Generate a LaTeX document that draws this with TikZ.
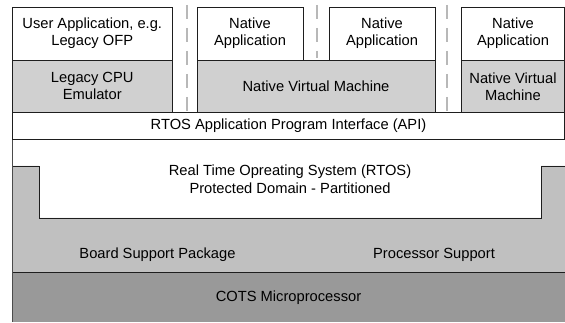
\documentclass[tikz,border=0pt]{standalone}
\usepackage{fontspec}
\setmainfont{Liberation Sans}
\definecolor{edge}{HTML}{1E1E1E}
\definecolor{topgray}{HTML}{D0D0D0}
\definecolor{midgray}{HTML}{C0C0C0}
\definecolor{darkgray}{HTML}{999999}
\definecolor{dashgray}{HTML}{B8B8B8}
\begin{document}
\begin{tikzpicture}[x=1pt,y=-1pt,
  font=\fontsize{14.7}{17}\selectfont,
  box/.style={draw=edge, line width=0.8pt, inner sep=0pt, outer sep=0pt, align=center},
  lbl/.style={inner sep=0pt, align=center},
  sep/.style={draw=dashgray, line width=1.8pt, dash pattern=on 14pt off 9pt},
  region/.style={draw=edge, line width=0.8pt}]
\useasboundingbox (0,0) rectangle (565,323);

% bottom layers
\fill[darkgray] (12.5,272) rectangle (565,322);
\node[lbl] (cots) at (288.5,298) {COTS Microprocessor};

\fill[white] (12.5,139) rectangle (564.5,218);
\path[region, fill=midgray] (12.5,166) -- (39,166) -- (39,218) -- (303,218) -- (303,272) -- (12.5,272) -- cycle;
\path[region, fill=midgray] (303,218) -- (541,218) -- (541,166) -- (565,166) -- (565,272) -- (303,272);
\draw[region] (12.5,272) -- (565,272);
\draw[draw=edge!80, line width=1.2pt] (12.5,139) -- (12.5,322);
\node[lbl] (bsp) at (157.5,255) {Board Support Package};
\node[lbl] (proc) at (434,255) {Processor Support};
\node[lbl, font=\fontsize{14.7}{18}\selectfont] (rtos) at (290,179) {Real Time Opreating System (RTOS)\\Protected Domain - Partitioned};

% API bar
\node[box, fill=white, minimum width=552pt, minimum height=26.5pt] (api) at (288.5,125.75) {RTOS Application Program Interface (API)};

% top row
\node[box, fill=white, minimum width=159.5pt, minimum height=53pt] (u1) at (92.25,33.5) {User Application, e.g.\\Legacy OFP};
\node[box, fill=topgray, minimum width=159.5pt, minimum height=52.5pt] (e1) at (92.25,86.25) {Legacy CPU\\Emulator};
\node[box, fill=white, minimum width=106pt, minimum height=53pt] (n2) at (250,33.5) {Native\\Application};
\node[box, fill=white, minimum width=106pt, minimum height=53pt] (n3) at (382,33.5) {Native\\Application};
\node[box, fill=topgray, minimum width=238pt, minimum height=52.5pt] (vm) at (316,86.25) {Native Virtual Machine};
\node[box, fill=white, minimum width=103pt, minimum height=53pt] (n4) at (513,33.5) {Native\\Application};
\node[box, fill=topgray, minimum width=103pt, minimum height=52.5pt] (vm4) at (513,86.25) {Native Virtual\\Machine};

% dashed separators
\coordinate (d1t) at (187,5);  \coordinate (d1b) at (187,113);
\coordinate (d2t) at (317,5);  \coordinate (d2b) at (317,58);
\coordinate (d3t) at (447,5);  \coordinate (d3b) at (447,113);
\draw[sep] (d1t) -- (d1b);
\draw[sep] (d2t) -- (d2b);
\draw[sep] (d3t) -- (d3b);
\end{tikzpicture}
\end{document}
